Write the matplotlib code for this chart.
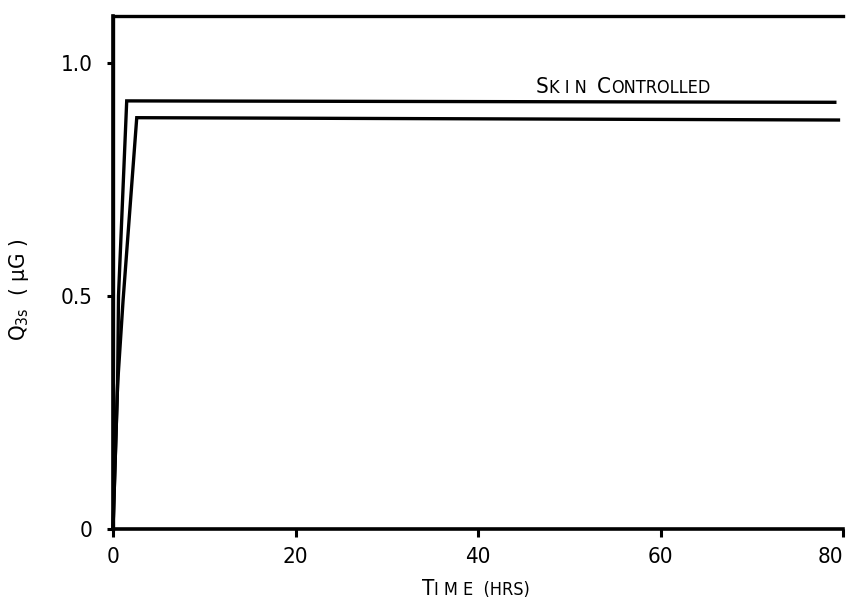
import matplotlib
matplotlib.use("Agg")
import matplotlib.pyplot as plt
from matplotlib.offsetbox import TextArea, HPacker, AnnotationBbox

# Model curves: stored charge Q_3s versus time
t_upper = [0.0, 0.0, 80.0]
q_upper = [0.0, 1.10, 1.10]

t_skin = [0.0, 0.5, 0.6, 1.5, 79.1]
q_skin = [0.0, 0.31, 0.50, 0.918, 0.915]

t_lower = [0.0, 0.5, 1.1, 2.6, 79.5]
q_lower = [0.0, 0.31, 0.49, 0.882, 0.877]

x_ticks = [0, 20, 40, 60, 80]
x_tick_labels = ["0", "20", "40", "60", "80"]
y_ticks = [0.0, 0.5, 1.0]
y_tick_labels = ["0", "0.5", "1.0"]

plt.rcParams["font.family"] = ["DejaVu Sans"]
plt.rcParams["font.stretch"] = "condensed"
plt.rcParams["mathtext.default"] = "regular"

fig = plt.figure(figsize=(8.46, 6.0), dpi=100)
ax = fig.add_axes([0.1336, 0.1183, 0.8629, 0.855])

lw = 2.4
for t, q in ((t_upper, q_upper), (t_skin, q_skin), (t_lower, q_lower)):
    ax.plot(t, q, color="black", lw=lw, solid_joinstyle="miter", clip_on=False)

ax.set_xlim(0, 80)
ax.set_ylim(0, 1.10)
ax.set_xticks(x_ticks)
ax.set_xticklabels(x_tick_labels)
ax.set_yticks(y_ticks)
ax.set_yticklabels(y_tick_labels)
ax.tick_params(axis="y", direction="out", length=4.5, width=2.2, labelsize=16, pad=10)
ax.tick_params(axis="x", direction="out", length=6, width=2.2, labelsize=16, pad=7)
# the last x label sits flush with the right end of the axis
ax.get_xticklabels()[-1].set_horizontalalignment("right")
ax.get_xticklabels()[-1].set_x(80.2)

for side in ("right", "top"):
    ax.spines[side].set_visible(False)
for side in ("left", "bottom"):
    ax.spines[side].set_linewidth(2.6)


def small_caps(parts, big=16, small=13):
    boxes = [TextArea(text, textprops=dict(fontsize=big if is_big else small, color="black"))
             for text, is_big in parts]
    return HPacker(children=boxes, align="baseline", pad=0, sep=0)


# curve annotation
label_box = small_caps([("S", True), ("K I N  ", False), ("C", True), ("ONTROLLED", False)])
ax.add_artist(AnnotationBbox(label_box, (55.9, 0.948), xycoords="data", frameon=False,
                             box_alignment=(0.5, 0.5)))

# x-axis title
xlab_box = small_caps([("T", True), ("I M E  (HRS)", False)])
ax.add_artist(AnnotationBbox(xlab_box, (0.497, -0.117), xycoords="axes fraction",
                             frameon=False, box_alignment=(0.5, 0.5),
                             annotation_clip=False))

# y-axis title
ax.set_ylabel(r"Q$_{3s}$  ( $\mu$G )", fontsize=16)
ax.yaxis.set_label_coords(-0.113, 0.466)

fig.savefig("out.png", dpi=100)
